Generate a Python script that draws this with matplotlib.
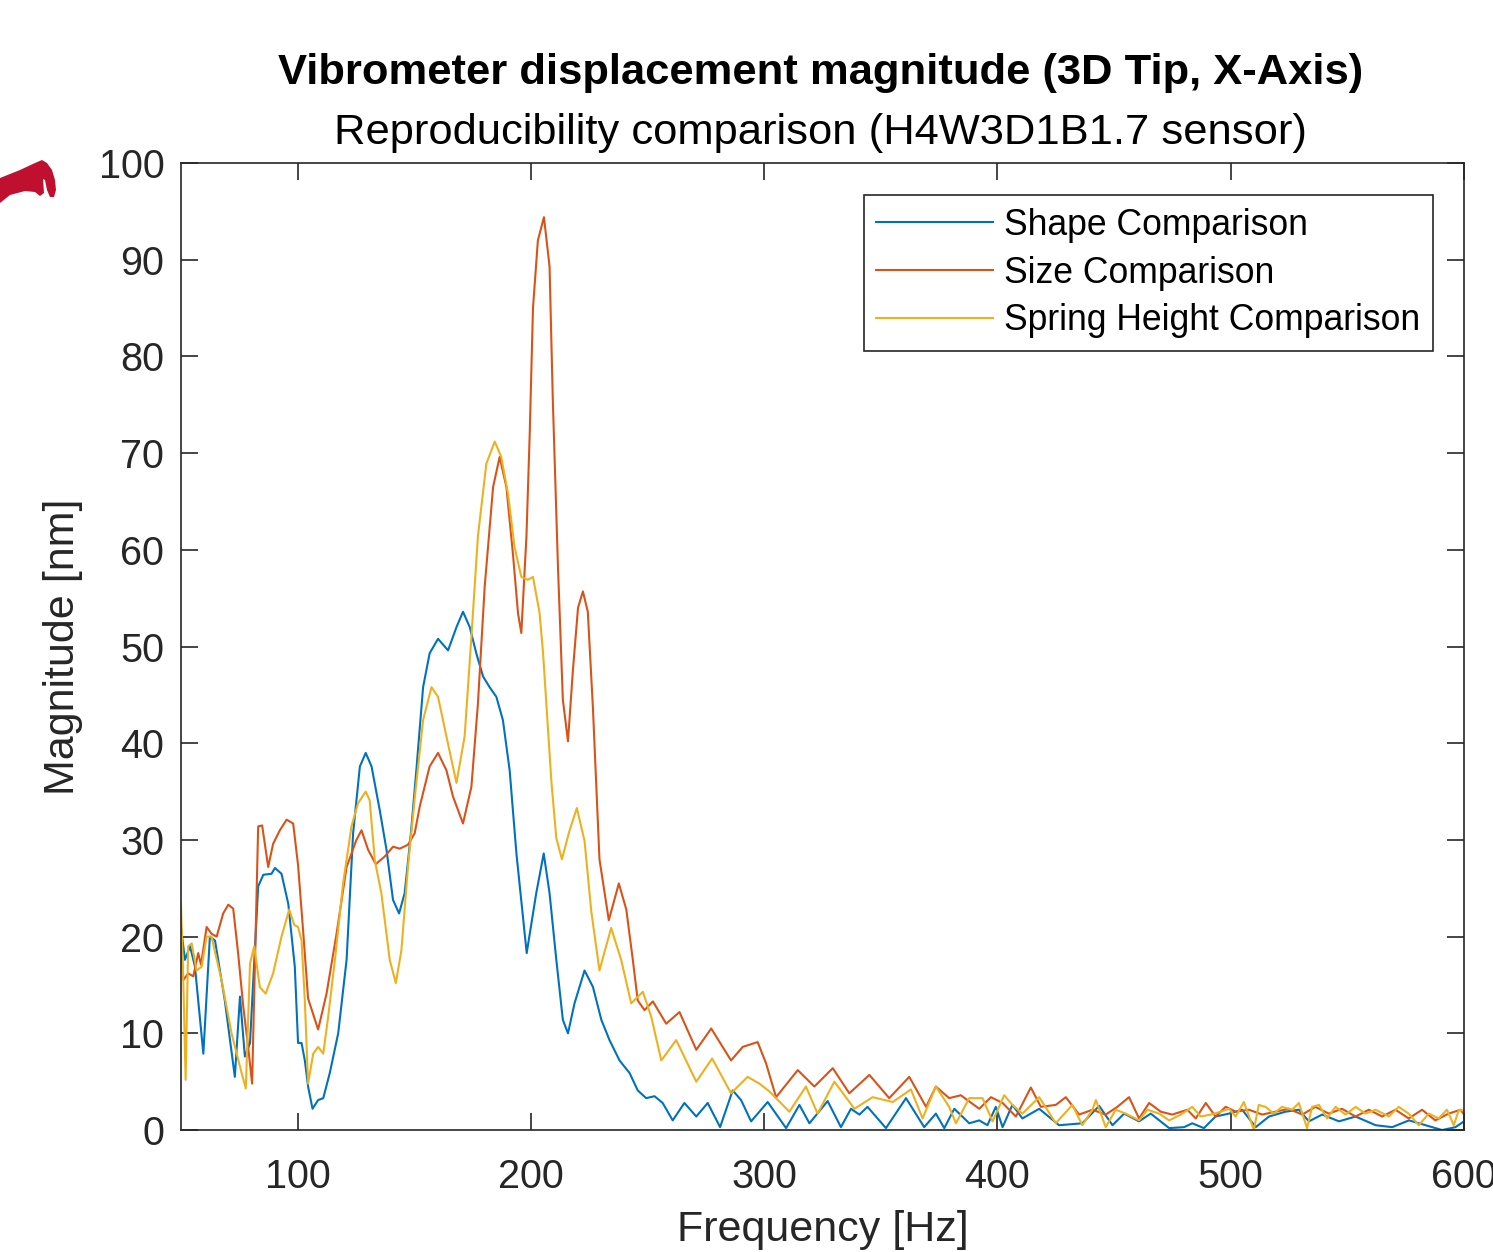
"""Vibrometer displacement magnitude, 3D tip X-axis: reproducibility comparison."""

import matplotlib

matplotlib.use("Agg")
import matplotlib.pyplot as plt
from matplotlib.patches import Polygon

# values (frequency in Hz, magnitude in nm)
shape_freq = [50, 51.7, 53.9, 56, 59.6, 62.4, 64.6, 68.8, 73.1, 75.3, 77.4, 79.6, 83.1, 85.3, 88.8,
              90.3, 93.1, 96, 98.8, 100.2, 101.7, 103.1, 104.5, 106.4, 108.8, 111, 113.8, 117.4, 121,
              123.8, 126.7, 129.2, 131.7, 135.2, 138.1, 140.9, 143.5, 145.9, 148.5, 150.9, 153.8, 156.6,
              160.2, 164.5, 168.1, 170.9, 173.8, 176.6, 179.5, 182.3, 185.2, 188, 190.9, 193.8, 198.2,
              202.3, 205.5, 208, 210.9, 213.7, 215.9, 218.7, 223, 226.6, 230.2, 233.7, 238, 242.3, 245.8,
              249.4, 253, 256.5, 260.8, 265.8, 270.9, 275.8, 281.1, 286.5, 290.1, 294.4, 301.5, 309.4,
              315.1, 319.4, 327.2, 332.9, 337.2, 340.8, 344.3, 352.2, 360.8, 368.6, 373.6, 377.2, 381.5,
              387.9, 392.2, 395.7, 399.3, 402.2, 406.4, 410.7, 417.9, 426.4, 436.4, 443.6, 449.3, 454.3,
              460.7, 465.7, 473.6, 480, 483.5, 488.5, 493.5, 499.2, 504.9, 510.7, 516.4, 523.5, 529.2,
              533.5, 539.2, 546.4, 553.5, 562.1, 569.2, 576.4, 583.5, 590.6, 596.3, 600]
shape_mag = [21.0, 17.6, 19.0, 16.9, 7.9, 20.0, 19.6, 13.4, 5.5, 13.8, 7.6, 9.0, 25.2, 26.4, 26.5,
             27.1, 26.5, 23.4, 16.9, 9.0, 9.0, 7.2, 4.5, 2.2, 3.1, 3.3, 5.9, 10.0, 17.6,
             30.7, 37.6, 39.0, 37.6, 33.1, 29.0, 23.8, 22.4, 24.5, 30.5, 37.2, 45.8, 49.3,
             50.8, 49.6, 52.0, 53.6, 52.0, 49.3, 46.9, 45.8, 44.8, 42.4, 37.2, 28.6, 18.3,
             24.5, 28.6, 24.5, 17.6, 11.4, 10.0, 13.1, 16.5, 14.8, 11.4, 9.3, 7.2, 5.9, 4.1,
             3.3, 3.5, 2.8, 1.0, 2.8, 1.4, 2.8, 0.3, 4.1, 3.1, 0.9, 2.9, 0.2,
             2.6, 0.7, 3.0, 0.3, 2.2, 1.6, 2.4, 0.2, 3.3, 0.3, 1.7, 0.2, 2.2,
             0.7, 1.0, 0.5, 2.4, 0.3, 2.6, 1.2, 2.2, 0.5, 0.7, 2.5, 0.5, 1.7,
             0.9, 1.7, 0.2, 0.3, 0.7, 0.2, 1.4, 1.7, 2.1, 0.3, 1.4, 1.9, 2.1,
             0.9, 1.6, 0.9, 1.4, 0.5, 0.3, 1.0, 0.5, 0.0, 0.3, 0.9]

size_freq = [50, 51, 53.1, 55.3, 57.4, 58.6, 61, 63.1, 65.3, 68.1, 70.3, 72.4, 74.5, 76.7, 78.8, 80.5,
             81.7, 83.1, 84.8, 87.4, 89.5, 92.4, 95.3, 98.1, 100.2, 102.4, 104.5, 108.8, 112.4, 116.7,
             121, 125.2, 127.4, 130.2, 133.5, 137.4, 140.9, 143.8, 147.3, 150.2, 152.4, 156.6, 160.2,
             163.8, 166.6, 170.9, 174.5, 177.3, 180.2, 183.8, 186.6, 189.5, 192.3, 194.5, 195.9, 198.1,
             199.5, 200.9, 203, 205.6, 208, 209.4, 211.6, 213.7, 215.9, 218, 220.2, 222.3, 224.4, 226.6,
             229.4, 233.4, 237.7, 240.9, 243.7, 245.8, 248.7, 252.3, 258, 263.7, 270.9, 277.3, 285.8,
             290.8, 297.2, 300.8, 305.1, 314.4, 321.5, 329.4, 336.5, 345.1, 353.6, 362.2, 369.4, 373.6,
             379.3, 384.3, 392.2, 397.2, 402.2, 407.9, 414.3, 418.6, 425, 429.3, 435, 440.7, 446.4,
             451.4, 456.4, 460.7, 465, 470, 474.9, 481.4, 485, 489.3, 493.5, 497.8, 502.1, 507.8, 513.5,
             519.2, 524.9, 530.6, 536.3, 542, 547.7, 553.5, 559.2, 564.9, 570.6, 576.3, 582, 587.7,
             593.4, 598.5, 600]
size_mag = [19.8, 15.5, 16.2, 15.9, 18.3, 17.1, 21.0, 20.3, 20.0, 22.4, 23.3, 22.9, 18.3, 12.8, 8.6, 4.8,
            17.2, 31.4, 31.5, 27.2, 29.6, 31.0, 32.1, 31.7, 27.4, 20.5, 13.6, 10.4, 14.1, 20.3,
            27.2, 30.0, 31.0, 29.0, 27.5, 28.3, 29.3, 29.1, 29.5, 30.7, 33.5, 37.6, 39.0,
            37.2, 34.5, 31.7, 35.5, 44.1, 56.2, 66.5, 69.6, 66.5, 59.6, 53.4, 51.4, 61.4,
            72.0, 85.0, 92.0, 94.4, 89.3, 75.5, 58.3, 44.5, 40.2, 47.5, 54.0, 55.7, 53.6, 43.6,
            28.0, 21.7, 25.5, 22.8, 17.6, 13.4, 12.4, 13.3, 11.0, 12.2, 8.3, 10.5, 7.2,
            8.6, 9.1, 6.9, 3.4, 6.2, 4.5, 6.4, 3.8, 5.7, 3.3, 5.5, 2.4, 4.5,
            3.3, 3.6, 2.2, 3.4, 2.8, 1.4, 4.4, 2.4, 2.6, 3.4, 1.6, 2.1, 1.6,
            2.4, 3.4, 1.2, 2.8, 1.9, 1.6, 2.1, 1.2, 2.8, 1.4, 2.4, 1.9, 2.1, 1.6,
            1.9, 2.2, 1.6, 2.4, 1.7, 2.2, 1.4, 2.1, 1.4, 2.1, 1.2, 2.1, 1.0,
            1.7, 2.1, 1.6]

spring_freq = [50, 51, 52, 53.1, 54.6, 56.7, 58.9, 61, 63.1, 67.4, 71.7, 76, 77.8, 79.6, 81.4, 83.8,
               86.3, 89.5, 93.1, 96.4, 98.6, 100.2, 101.7, 103.1, 104.5, 106.7, 108.8, 111, 113.1, 116,
               119.5, 123.1, 125.9, 129.2, 130.9, 133.1, 135.9, 139.5, 142.1, 144.5, 147.3, 150.5, 153.8,
               157.4, 160.2, 163.8, 168.1, 171.6, 174.5, 177.3, 180.9, 184.5, 187.3, 190.2, 193, 195.9,
               198.7, 200.9, 203.7, 205.2, 208.8, 210.9, 213.3, 216.6, 219.7, 223, 225.9, 229.4, 234.4,
               238.7, 243, 248, 251.6, 255.9, 262.3, 270.9, 277.7, 285.8, 292.9, 298, 302.2, 310.8, 317.9,
               322.9, 330.1, 338.7, 346.5, 355.1, 362.9, 367.9, 373.6, 379.3, 382.2, 387.9, 393.6, 397.9,
               402.9, 406.4, 410.7, 417.9, 425, 432.1, 436.4, 440.7, 442.2, 446.4, 450.7, 455, 460.7,
               464.3, 469.3, 473.6, 478.6, 483.5, 487.1, 491.4, 495.7, 499.2, 502.1, 505.6, 508.5, 509.9,
               512, 514.9, 518.4, 522, 526.3, 529.2, 532.7, 534.9, 537.8, 541.3, 544.9, 549.2, 553.5,
               557.8, 562.1, 567.8, 572, 576.3, 580.6, 584.9, 589.1, 592.7, 595.6, 597.8, 600]
spring_mag = [23.4, 15.5, 5.2, 19.0, 19.3, 16.5, 16.9, 20.0, 20.0, 15.5, 10.0, 5.9, 4.3, 17.2, 19.0, 14.8,
              14.1, 16.2, 20.0, 22.8, 21.2, 21.0, 19.6, 13.4, 4.8, 7.9, 8.6, 7.9, 11.7, 17.6,
              25.5, 31.4, 33.8, 35.0, 34.1, 27.9, 24.5, 17.6, 15.2, 18.6, 27.2, 35.0, 42.4,
              45.8, 44.8, 40.7, 35.9, 40.7, 51.0, 61.4, 68.9, 71.2, 69.6, 65.8, 60.3, 57.2,
              56.9, 57.2, 53.5, 49.4, 36.0, 30.2, 28.0, 31.0, 33.3, 29.9, 22.6, 16.5, 20.9,
              17.6, 13.1, 14.3, 11.7, 7.2, 9.3, 5.0, 7.4, 3.8, 5.5, 4.8, 4.0, 1.9, 4.5,
              1.7, 5.0, 2.2, 3.4, 2.9, 4.2, 1.2, 4.5, 2.4, 0.7, 3.3, 3.3, 0.9,
              3.6, 2.6, 1.7, 3.4, 0.7, 2.6, 0.5, 2.1, 3.1, 0.3, 2.1, 1.7, 1.0,
              2.1, 1.7, 1.0, 1.6, 2.4, 1.4, 1.6, 1.9, 2.2, 1.4, 2.9, 1.0, 0.0,
              2.6, 2.4, 1.7, 2.4, 2.1, 2.8, 0.2, 2.4, 2.6, 1.2, 2.4, 1.6, 2.4,
              1.7, 2.1, 1.4, 2.4, 1.7, 0.5, 1.7, 1.2, 2.1, 0.5, 2.1, 2.0]

x_ticks = [100, 200, 300, 400, 500, 600]
y_ticks = list(range(0, 101, 10))

plt.rcParams["font.family"] = ["Liberation Sans", "DejaVu Sans"]
AX_COLOR = "#262626"

fig = plt.figure(figsize=(14.93, 12.52), dpi=100)
ax = fig.add_axes([0.1212, 0.0974, 0.8594, 0.7724])

ax.plot(shape_freq, shape_mag, color="#0072BD", lw=1.5, label="Shape Comparison")
ax.plot(size_freq, size_mag, color="#D95319", lw=1.5, label="Size Comparison")
ax.plot(spring_freq, spring_mag, color="#EDB120", lw=1.5, label="Spring Height Comparison")

ax.set_xlim(50, 600)
ax.set_ylim(0, 100)
ax.set_xticks(x_ticks)
ax.set_yticks(y_ticks)
ax.tick_params(direction="in", length=12, width=1.2, top=True, right=True,
               labelsize=28.5, colors=AX_COLOR)
ax.tick_params(axis="x", pad=20)
ax.tick_params(axis="y", pad=12)
for spine in ax.spines.values():
    spine.set_color(AX_COLOR)
    spine.set_linewidth(1.2)

ax.set_xlabel("Frequency [Hz]", fontsize=31, color=AX_COLOR, labelpad=10)
ax.set_ylabel("Magnitude [nm]", fontsize=31, color=AX_COLOR, labelpad=11)

fig.text(0.5495, 0.942, "Vibrometer displacement magnitude (3D Tip, X-Axis)",
         ha="center", va="center", fontsize=31.3, fontweight="bold", color="black")
fig.text(0.5495, 0.894, "Reproducibility comparison (H4W3D1B1.7 sensor)",
         ha="center", va="center", fontsize=31.3, color="black")

leg = ax.legend(loc="upper right", bbox_to_anchor=(0.9755, 0.9665), fontsize=25.6,
                handlelength=3.3, handletextpad=0.3, borderpad=0.35, labelspacing=0.36,
                fancybox=False, framealpha=1, edgecolor=AX_COLOR, borderaxespad=0)
leg.get_frame().set_linewidth(1.2)

# red logo fragment peeking in at the top-left corner
logo_px = [(0, 178), (20, 170), (35, 163), (42, 160), (47, 163), (52, 170), (55, 180), (56, 190),
           (54, 197), (50, 197), (47, 190), (45, 180), (43, 179), (44, 193), (40, 196), (35, 192),
           (25, 191), (10, 195), (0, 203)]
logo = Polygon([(x / 1493, 1 - y / 1252) for x, y in logo_px], closed=True,
               transform=fig.transFigure, facecolor="#C0102F", edgecolor="none")
fig.patches.append(logo)

fig.savefig("out.png", dpi=100)
